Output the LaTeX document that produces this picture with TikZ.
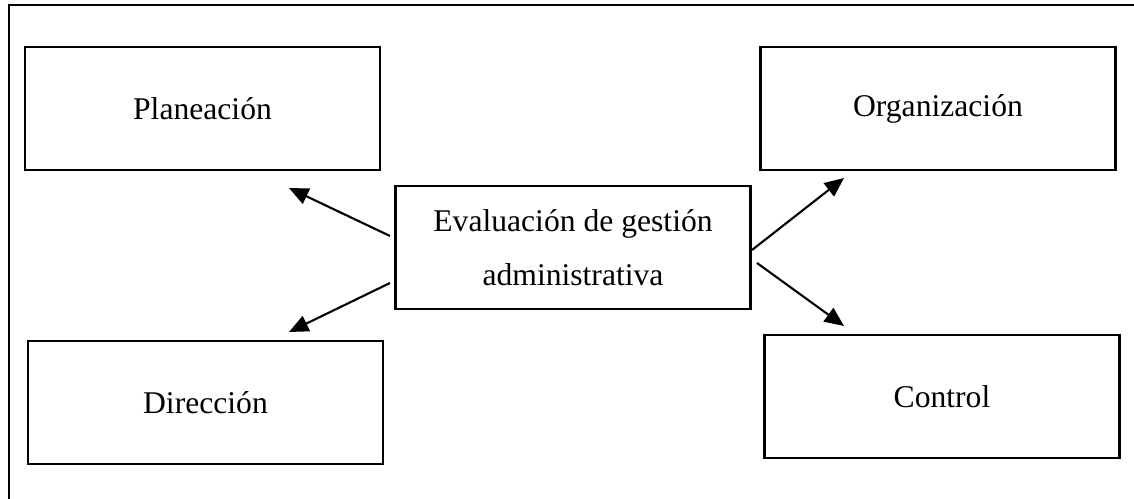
\documentclass[tikz,border=0pt]{standalone}
\usepackage{fontspec}
\setmainfont{Liberation Serif}
\usetikzlibrary{arrows.meta}
\tikzset{
  areabox/.style={draw,line width=1.4pt,minimum width=7.1cm,minimum height=2.46cm,
    align=center,inner sep=0pt,font=\fontsize{18}{31}\selectfont},
  flecha/.style={-{Triangle[length=11pt,width=9.5pt]},line width=1.2pt}
}
\begin{document}
\begin{tikzpicture}[x=0.02cm,y=-0.02cm]
    \useasboundingbox (0,0) rectangle (1134,499);
    \draw[line width=1.5pt] (9,499) -- (9,5) -- (1134,5);

    \node[areabox] (plan) at (202.5,108.5) {Planeación};
    \node[areabox] (org) at (938,108.5) {Organización};
    \node[areabox] (eval) at (573,247.5) {Evaluación de gestión\\administrativa};
    \node[areabox] (dir) at (205.5,402.5) {Dirección};
    \node[areabox] (ctrl) at (942,396.5) {Control};

    \coordinate (eval-nw) at (390,236);
    \coordinate (eval-sw) at (390,283);
    \coordinate (eval-ne) at (752,250);
    \coordinate (eval-se) at (757,263);
    \coordinate (plan-in) at (289,188);
    \coordinate (dir-in) at (289,332);
    \coordinate (org-in) at (844,178);
    \coordinate (ctrl-in) at (844,326);

    \draw[flecha] (eval-nw) -- (plan-in);
    \draw[flecha] (eval-sw) -- (dir-in);
    \draw[flecha] (eval-ne) -- (org-in);
    \draw[flecha] (eval-se) -- (ctrl-in);
\end{tikzpicture}
\end{document}
